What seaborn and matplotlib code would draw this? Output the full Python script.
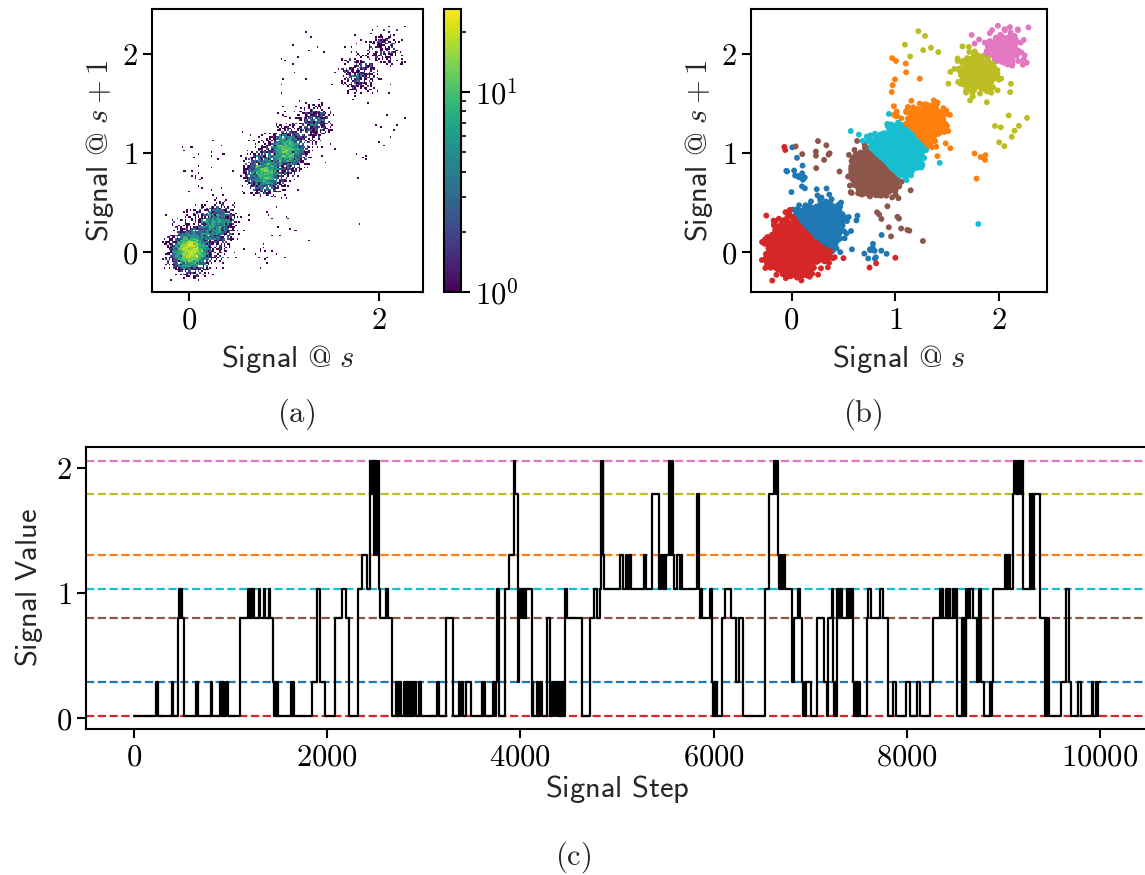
import numpy as np
import pandas as pd
import matplotlib
matplotlib.use("Agg")
import matplotlib.pyplot as plt
import seaborn as sns
from matplotlib.colors import LogNorm
from matplotlib.ticker import FuncFormatter, FixedLocator, NullFormatter

# ---------------- data ----------------
levels = [0.015, 0.285, 0.795, 1.03, 1.305, 1.79, 2.055]
level_colors = ["#d62728", "#1f77b4", "#8c564b", "#17becf", "#ff7f0e", "#bcbd22", "#e377c2"]
cluster_scale = [1.25, 1.0, 1.0, 1.05, 1.0, 1.0, 1.0]
draw_rank = [2, 0, 3, 6, 1, 5, 4]   # red over blue, cyan on top, olive over pink ...

n_steps = 10000
noise_sd = 0.09

change_steps = [
    0, 230, 250, 390, 405, 452, 460, 470, 478, 490, 510, 640, 660, 790, 810, 890, 905, 915, 930, 955, 975,
    1090, 1175, 1185, 1195, 1205, 1215, 1240, 1290, 1300, 1340, 1350, 1400, 1410,
    1435, 1445, 1455, 1465, 1475, 1490, 1625, 1635, 1645, 1655,
    1840, 1890, 1925, 1980, 2075, 2150, 2190, 2225, 2320, 2355, 2410,
    2445, 2455, 2460, 2470, 2475, 2485, 2490, 2500, 2505, 2515, 2520, 2530,
    2545, 2605, 2630, 2670, 2710, 2725, 2740, 2760,
    2795, 2805, 2815, 2825, 2835, 2845, 2855, 2865, 2875, 2885, 2895, 2915, 2950, 2975,
    3140, 3160, 3225, 3300, 3365, 3375, 3385, 3405, 3440, 3485, 3600, 3610, 3620, 3635,
    3720, 3735, 3745, 3760, 3780, 3840, 3880, 3930, 3945, 3978,
    3990, 4000, 4010, 4025, 4035, 4050, 4060, 4115, 4125, 4135, 4175, 4185, 4200, 4225,
    4275, 4310, 4330, 4345, 4360, 4375, 4390, 4400, 4415, 4430, 4440, 4450,
    4465, 4485, 4640, 4725, 4760, 4795, 4820, 4830, 4840, 4850, 4860, 4870,
    5035, 5060, 5090, 5100, 5120, 5140, 5275, 5300,
    5365, 5440, 5460, 5475, 5485, 5500, 5510, 5535, 5550, 5565, 5575, 5590, 5620, 5650, 5660, 5675,
    5830, 5845, 5855, 5865, 5880, 5965, 5985, 5995, 6005, 6015, 6025, 6035,
    6085, 6120, 6180, 6230, 6260, 6300, 6530, 6575, 6630, 6645, 6655, 6665, 6680, 6690, 6700, 6715,
    6740, 6810, 6830, 6875, 6900, 6915, 6930, 6940, 6950, 6960, 7010,
    7070, 7140, 7175, 7183, 7190, 7225, 7240, 7250, 7260, 7270, 7280, 7300, 7310, 7330, 7380, 7390,
    7400, 7410, 7420, 7440, 7455, 7465, 7475, 7485, 7500, 7510, 7520,
    7585, 7600, 7630, 7720, 7755, 7810, 7860, 7895, 7995, 8040, 8110, 8140, 8240,
    8275, 8345, 8355, 8365, 8380, 8405, 8415, 8425, 8435, 8445, 8450, 8480, 8490, 8500, 8520,
    8570, 8590, 8600, 8610, 8620, 8630, 8640, 8650, 8660, 8690, 8725, 8750, 8770, 8805, 8860, 8870, 8880, 8895,
    9015, 9025, 9035, 9045, 9055, 9070, 9100, 9115, 9130, 9140, 9155, 9165, 9180, 9190, 9205,
    9275, 9290, 9300, 9310, 9320, 9380, 9430, 9440, 9450, 9460, 9470,
    9600, 9655, 9680, 9705, 9780, 9810, 9915, 9930, 9960, 9975, 9985,
]
change_states = [
    0, 1, 0, 1, 0, 2, 3, 2, 3, 2, 0, 1, 0, 1, 0, 1, 0, 1, 0, 1, 0,
    2, 3, 2, 3, 2, 3, 2, 3, 2, 3, 2, 3, 2,
    1, 0, 1, 0, 1, 0, 1, 0, 1, 0,
    1, 3, 1, 0, 2, 3, 2, 0, 3, 4, 3,
    6, 5, 6, 5, 6, 4, 6, 5, 6, 4, 6, 3,
    2, 3, 2, 0, 1, 0, 1, 0,
    1, 0, 1, 0, 1, 0, 1, 0, 1, 0, 1, 0, 1, 0,
    1, 0, 2, 0, 1, 0, 1, 0, 1, 0, 1, 0, 1, 0,
    1, 0, 1, 3, 0, 3, 4, 6, 5, 1,
    3, 2, 3, 2, 3, 2, 3, 0, 1, 0, 1, 0, 1, 0,
    2, 0, 1, 0, 1, 0, 1, 0, 1, 0, 1, 0,
    3, 2, 0, 2, 3, 2, 3, 6, 4, 6, 4, 3,
    4, 3, 4, 3, 4, 3, 4, 3,
    5, 3, 4, 3, 4, 3, 4, 6, 4, 6, 4, 3, 4, 3, 4, 3,
    5, 3, 2, 3, 2, 3, 1, 0, 1, 0, 1, 0,
    2, 3, 2, 1, 2, 0, 3, 5, 6, 5, 6, 4, 3, 4, 3, 4,
    3, 1, 2, 3, 2, 1, 0, 1, 0, 1, 0,
    2, 1, 0, 1, 2, 3, 1, 0, 1, 0, 3, 2, 3, 2, 3, 2,
    3, 2, 3, 1, 0, 1, 0, 1, 0, 1, 0,
    2, 3, 2, 3, 2, 0, 1, 0, 1, 0, 1, 0, 1,
    2, 3, 2, 3, 2, 3, 2, 3, 2, 3, 2, 3, 2, 3, 0,
    2, 0, 2, 0, 3, 2, 3, 2, 3, 2, 1, 3, 1, 0, 1, 0, 1, 3,
    4, 3, 4, 3, 4, 3, 5, 6, 5, 6, 5, 6, 5, 6, 3,
    5, 3, 5, 3, 5, 2, 0, 2, 0, 2, 0,
    1, 3, 1, 0, 1, 0, 1, 0, 1, 0, 1,
]

x_ticks_a = [0, 2]
x_ticks_b = [0, 1, 2]
y_ticks_ab = [0, 1, 2]
x_ticks_c = [0, 2000, 4000, 6000, 8000, 10000]
y_ticks_c = [0, 1, 2]

# ---------------- derived series ----------------
bounds = change_steps + [n_steps]
state = np.concatenate([np.full(bounds[i + 1] - bounds[i], change_states[i]) for i in range(len(change_states))])
clean = np.asarray(levels)[state]
rng = np.random.default_rng(3)
noisy = clean + rng.normal(0.0, noise_sd, size=clean.size)
xs, ys = noisy[:-1], noisy[1:]
centers = np.asarray(levels)
d2 = (xs[:, None] - centers[None, :]) ** 2 + (ys[:, None] - centers[None, :]) ** 2
cluster = (d2 / np.asarray(cluster_scale)[None, :] ** 2).argmin(axis=1)
pairs = pd.DataFrame({"x": xs, "y": ys, "cluster": cluster})
pairs["rank"] = np.asarray(draw_rank)[pairs["cluster"]]
pairs = pairs.sort_values("rank", kind="stable")

step_x = change_steps + [n_steps]
step_y = [levels[s] for s in change_states] + [levels[change_states[-1]]]
steps_df = pd.DataFrame({"step": step_x, "value": step_y})

# ---------------- style ----------------
sns.set_theme(style="ticks")
plt.rcParams.update({
    "mathtext.fontset": "cm",
    "axes.linewidth": 1.5,
    "axes.edgecolor": "black",
    "xtick.major.width": 1.5, "ytick.major.width": 1.5,
    "xtick.major.size": 6.5, "ytick.major.size": 6.5,
    "xtick.minor.width": 1.2, "ytick.minor.width": 1.2,
    "xtick.minor.size": 3.5, "ytick.minor.size": 3.5,
    "xtick.color": "black", "ytick.color": "black",
    "xtick.labelsize": 22, "ytick.labelsize": 22,
    "axes.labelsize": 22,
})

W, H = 1145, 875
fig = plt.figure(figsize=(W / 100, H / 100), dpi=100)

def px_axes(l, t, r, b):
    return fig.add_axes([l / W, 1 - b / H, (r - l) / W, (b - t) / H])

ax1 = px_axes(152, 9, 423, 292)
cax = px_axes(444, 9, 461, 292)
ax2 = px_axes(751, 9, 1047, 292)
ax3 = px_axes(86, 447, 1148, 729)

num_fmt = FuncFormatter(lambda v, p: f"${v:.0f}$")

# (a) 2D histogram
sns.histplot(x=xs, y=ys, bins=150, cmap="viridis", norm=LogNorm(), vmin=None, vmax=None,
             cbar=True, cbar_ax=cax, ax=ax1)
cax.yaxis.set_major_formatter(FuncFormatter(lambda v, p: f"$10^{{{int(round(np.log10(v)))}}}$"))
cax.yaxis.set_minor_formatter(NullFormatter())
for sp in cax.spines.values():
    sp.set_linewidth(1.5)
cax.tick_params(which="major", labelsize=22)

# (b) scatter coloured by cluster
sns.scatterplot(data=pairs, x="x", y="y", hue="cluster",
                palette={i: c for i, c in enumerate(level_colors)},
                s=18, linewidth=0, legend=False, ax=ax2)

for ax, xt in ((ax1, x_ticks_a), (ax2, x_ticks_b)):
    ax.set_xlim(-0.39, 2.46)
    ax.set_ylim(-0.40, 2.45)
    ax.xaxis.set_major_locator(FixedLocator(xt))
    ax.yaxis.set_major_locator(FixedLocator(y_ticks_ab))
    ax.xaxis.set_major_formatter(num_fmt)
    ax.yaxis.set_major_formatter(num_fmt)
    ax.set_xlabel(r"$\mathsf{Signal\ @}\ s$", labelpad=6)
    ax.set_ylabel(r"$\mathsf{Signal\ @}\ s+1$", labelpad=4)

# (c) step trace with cluster levels
for lv, col in zip(levels, level_colors):
    ax3.axhline(lv, color=col, linestyle="--", linewidth=1.6, zorder=1)
sns.lineplot(data=steps_df, x="step", y="value", drawstyle="steps-post", color="black",
             linewidth=1.6, estimator=None, sort=False, ax=ax3, zorder=3)
ax3.set_xlim(-500, 10500)
ax3.set_ylim(-0.088, 2.164)
ax3.xaxis.set_major_locator(FixedLocator(x_ticks_c))
ax3.yaxis.set_major_locator(FixedLocator(y_ticks_c))
ax3.xaxis.set_major_formatter(num_fmt)
ax3.yaxis.set_major_formatter(num_fmt)
ax3.set_xlabel(r"$\mathsf{Signal\ Step}$", labelpad=1)
ax3.set_ylabel(r"$\mathsf{Signal\ Value}$", labelpad=8)

fig.text(296 / W, 1 - 414 / H, r"$\mathrm{(a)}$", ha="center", va="center", fontsize=22)
fig.text(863 / W, 1 - 414 / H, r"$\mathrm{(b)}$", ha="center", va="center", fontsize=22)
fig.text(573 / W, 1 - 857 / H, r"$\mathrm{(c)}$", ha="center", va="center", fontsize=22)

fig.savefig("out.png", dpi=100)
